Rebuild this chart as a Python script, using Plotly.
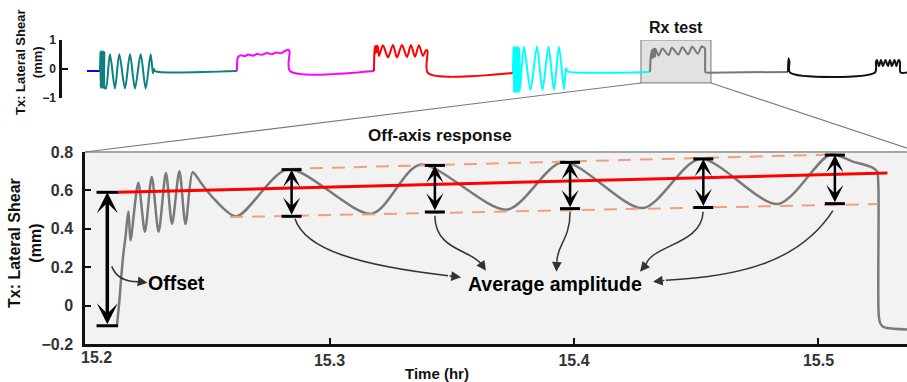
import plotly.graph_objects as go

# ---------------- Overview strip (time in hr, shear in mm) ----------------
blue_t = [12.032, 12.1055]
blue_v = [-0.07, -0.07]

teal_t = [12.1055, 12.1078, 12.110, 12.1123, 12.1145, 12.1168, 12.119, 12.1213, 12.1236, 12.1258,
          12.128, 12.1303, 12.1326, 12.1394, 12.162, 12.190, 12.2145, 12.2467, 12.275, 12.3032,
          12.3354, 12.3637, 12.3919, 12.4049, 12.4105, 12.4162, 12.8795]
teal_v = [-0.07, 0.6, -0.65, 0.6, -0.65, 0.6, -0.65, 0.6, -0.65, 0.6,
          -0.65, 0.58, -0.65, -0.67, 0.51, -0.67, 0.51, -0.67, 0.51, -0.67,
          0.51, -0.67, 0.51, -0.15, 0.0, -0.07, -0.07]

mag_t = [12.8795, 12.8851, 12.9021, 12.9247, 12.9416, 12.9699, 12.9925, 13.0207, 13.049, 13.0772,
         13.0998, 13.1281, 13.1507, 13.1676, 13.1761, 13.1789, 13.6535]
mag_v = [-0.07, 0.41, 0.47, 0.44, 0.50, 0.46, 0.52, 0.49, 0.55, 0.51,
         0.57, 0.54, 0.62, 0.66, 0.62, -0.07, -0.07]

red_t = [13.6535, 13.6563, 13.6591, 13.662, 13.6648, 13.6676, 13.6704, 13.6733, 13.6761, 13.6817,
         13.7043, 13.7326, 13.7608, 13.7834, 13.8117, 13.8399, 13.8625, 13.8851, 13.9077, 13.9303,
         13.9473, 13.9558, 13.9586, 14.4388]
red_v = [-0.07, 0.62, 0.78, 0.55, 0.80, 0.58, 0.80, 0.60, 0.78, 0.45,
         0.82, 0.40, 0.83, 0.40, 0.83, 0.41, 0.83, 0.42, 0.82, 0.45,
         0.65, 0.62, -0.14, -0.14]

cyan_t = [14.4388, 14.4416, 14.4444, 14.4473, 14.4501, 14.4529, 14.4557, 14.4586, 14.4614, 14.4642,
          14.467, 14.4699, 14.4727, 14.4755, 14.4783, 14.5009, 14.5377, 14.5744, 14.6055, 14.6394,
          14.6704, 14.6987, 14.7269, 14.7382, 14.7438, 14.7495, 15.2131]
cyan_v = [-0.12, 0.76, -0.8, 0.76, -0.8, 0.76, -0.8, 0.76, -0.8, 0.76,
          -0.8, 0.76, -0.8, 0.7, -0.72, 0.77, -0.72, 0.77, -0.72, 0.77,
          -0.72, 0.77, -0.70, 0.03, -0.04, -0.09, -0.10]

after_t = [15.5362, 15.9925]
after_v = [-0.125, -0.10]

black_t = [15.9925, 15.9953, 15.9981, 16.001, 16.0038, 16.484, 16.4897, 16.4953, 16.5066, 16.5179,
           16.5292, 16.5433, 16.5574, 16.5687, 16.58, 16.5942, 16.6055, 16.6168, 16.6252, 16.628, 16.665]
black_v = [-0.10, 0.37, 0.30, 0.25, -0.12, -0.12, 0.25, 0.31, 0.10, 0.31,
           0.10, 0.31, 0.10, 0.31, 0.10, 0.31, 0.10, 0.31, 0.25, -0.12, -0.12]

# ---------------- Rx test detail (off-axis response) ----------------
rx_t = [15.2131, 15.2141, 15.2147, 15.2157, 15.2166, 15.2172, 15.2178, 15.2186, 15.2218, 15.2245,
        15.2273, 15.2301, 15.2331, 15.2356, 15.2386, 15.2411, 15.2440, 15.2458, 15.2474, 15.2532,
        15.2620, 15.2830, 15.3173, 15.3370, 15.3726, 15.3955, 15.4282, 15.4515, 15.4834, 15.5047,
        15.5141, 15.5219, 15.5239, 15.5245, 15.5246, 15.5252, 15.5264, 15.5280, 15.5362]
rx_v = [-0.10, 0.03, 0.13, 0.27, 0.36, 0.44, 0.49, 0.34, 0.64, 0.385,
        0.67, 0.385, 0.69, 0.425, 0.70, 0.425, 0.695, 0.67, 0.64, 0.55,
        0.465, 0.71, 0.479, 0.734, 0.50, 0.748, 0.508, 0.764, 0.529, 0.786,
        0.75, 0.72, 0.70, 0.62, -0.04, -0.09, -0.11, -0.117, -0.125]

trend_t = [15.2135, 15.5282]
trend_v = [0.59, 0.69]
upper_env_t = [15.2830, 15.5055]
upper_env_v = [0.712, 0.787]
lower_env_t = [15.2593, 15.5243]
lower_env_v = [0.461, 0.529]

amp_t = [15.2845, 15.3431, 15.3984, 15.4529, 15.5067]
amp_top = [0.708, 0.730, 0.746, 0.764, 0.784]
amp_bot = [0.465, 0.4875, 0.505, 0.511, 0.531]
offset_t = 15.20912
offset_top = 0.59
offset_bot = -0.105

lower_ticks = [15.3, 15.4, 15.5]
y_ticks = [-0.2, 0, 0.2, 0.4, 0.6, 0.8]
y_ticktext = ["\u22120.2", "0", "0.2", "0.4", "0.6", "0.8"]

W, H = 907, 382
FONT = "Liberation Sans, Arial, sans-serif"

fig = go.Figure()

def line(t, v, color, xa="x", ya="y", width=2.0, shape="spline", dash=None):
    fig.add_trace(go.Scatter(x=t, y=v, mode="lines", xaxis=xa, yaxis=ya,
                             line=dict(color=color, width=width, shape=shape, dash=dash,
                                       smoothing=0.8 if shape == "spline" else None),
                             hoverinfo="skip", showlegend=False))

# overview strip
line(blue_t, blue_v, "#0000ff", shape="linear")
line(teal_t, teal_v, "#0e8080")
line(mag_t, mag_v, "#ff00ff")
line(red_t, red_v, "#ff0000")
line(cyan_t, cyan_v, "#00ffff")
line(rx_t, rx_v, "#777777")
line(after_t, after_v, "#777777", shape="linear")
line(black_t, black_v, "#111111")

# detail
line(rx_t, rx_v, "#7a7a7a", "x2", "y2", width=2.5)
line(upper_env_t, upper_env_v, "#f0a07c", "x2", "y2", width=2, shape="linear", dash="13px,9px")
line(lower_env_t, lower_env_v, "#f0a07c", "x2", "y2", width=2, shape="linear", dash="13px,9px")
line(trend_t, trend_v, "#ff0000", "x2", "y2", width=3, shape="linear")

# caps of the double arrows
CAP = 0.0041
cx, cy = [], []
for t, a, b in zip(amp_t, amp_top, amp_bot):
    cx += [t - CAP, t + CAP, None, t - CAP, t + CAP, None]
    cy += [a, a, None, b, b, None]
OCAP = 0.0044
cx += [offset_t - OCAP, offset_t + OCAP, None, offset_t - OCAP, offset_t + OCAP, None]
cy += [offset_top, offset_top, None, offset_bot, offset_bot, None]
fig.add_trace(go.Scatter(x=cx, y=cy, mode="lines", xaxis="x2", yaxis="y2",
                         line=dict(color="#000000", width=3), hoverinfo="skip", showlegend=False))

ann = []
for t, a, b in zip(amp_t, amp_top, amp_bot):
    ann.append(dict(x=t, y=a, ax=t, ay=b, xref="x2", yref="y2", axref="x2", ayref="y2", text="",
                    showarrow=True, arrowside="end+start", arrowhead=3, startarrowhead=3,
                    arrowsize=1.15, startarrowsize=1.15, arrowwidth=2.5, arrowcolor="#000000"))
ann.append(dict(x=offset_t, y=offset_top, ax=offset_t, ay=offset_bot, xref="x2", yref="y2",
                axref="x2", ayref="y2", text="", showarrow=True, arrowside="end+start",
                arrowhead=3, startarrowhead=3, arrowsize=1.0, startarrowsize=1.0,
                arrowwidth=3.5, arrowcolor="#000000"))

# curved pointers
curves = [
    ("M 15.21092,0.2042 Q 15.2135,0.1193 15.2225,0.1245", (15.2225, 0.1245), (15.22556, 0.1193)),
    ("M 15.2859,0.4526 C 15.2900,0.2911 15.3125,0.2078 15.3485,0.1557", (15.3485, 0.1557), (15.3538, 0.1479)),
    ("M 15.3431,0.4682 C 15.3431,0.2911 15.3575,0.2911 15.3620,0.2182", (15.3620, 0.2182), (15.3640, 0.1818)),
    ("M 15.3984,0.4891 C 15.3984,0.3432 15.3930,0.3172 15.3930,0.2286", (15.3930, 0.2286), (15.3928, 0.1766)),
    ("M 15.4528,0.4891 C 15.4524,0.3172 15.4319,0.3172 15.4294,0.2130", (15.4294, 0.2130), (15.4270, 0.1766)),
    ("M 15.5059,0.4943 C 15.4924,0.2286 15.4679,0.1505 15.4376,0.1323", (15.4376, 0.1323), (15.4323, 0.1245)),
]
shapes = []
for path, tail, tip in curves:
    shapes.append(dict(type="path", path=path, xref="x2", yref="y2",
                       line=dict(color="#333333", width=1.5)))
    ann.append(dict(x=tip[0], y=tip[1], ax=tail[0], ay=tail[1], xref="x2", yref="y2",
                    axref="x2", ayref="y2", text="", showarrow=True, arrowhead=2,
                    arrowsize=1.3, arrowwidth=1.5, arrowcolor="#333333"))

# backgrounds / frames
shapes.insert(0, dict(type="rect", xref="x2 domain", yref="y2 domain", x0=0, x1=1.02, y0=0, y1=1,
                      fillcolor="#f2f2f2", line=dict(width=0), layer="below"))
shapes.append(dict(type="line", xref="x2 domain", yref="y2 domain", x0=0, x1=1.02, y0=1, y1=1,
                   line=dict(color="#a6a6a6", width=2), layer="below"))
shapes.insert(0, dict(type="rect", xref="x", yref="y", x0=15.162, x1=15.5574, y0=-0.48, y1=1.0,
                      fillcolor="#e2e2e2", line=dict(color="#8c8c8c", width=1.2), layer="below"))
# zoom connectors
shapes.append(dict(type="line", xref="paper", yref="paper", x0=641 / W, y0=1 - 83 / H,
                   x1=85 / W, y1=1 - 152 / H, line=dict(color="#7a7a7a", width=1.2)))
shapes.append(dict(type="line", xref="paper", yref="paper", x0=711 / W, y0=1 - 83 / H,
                   x1=919 / W, y1=1 - 152 / H, line=dict(color="#7a7a7a", width=1.2)))

def text(s, x, y, size, xref="paper", yref="paper", angle=0, color="#111111"):
    ann.append(dict(text=s, x=x, y=y, xref=xref, yref=yref, showarrow=False, textangle=angle,
                    xanchor="center", yanchor="middle",
                    font=dict(family=FONT, size=size, color=color, weight="bold")))

text("Off-axis response", 440 / W, 1 - 136 / H, 17)
text("Rx test", 675.5 / W, 1 - 28 / H, 16)
text("Time (hr)", 437 / W, 1 - 373 / H, 15)
text("15.2", 96.5 / W, 1 - 357 / H, 16, color="#333333")
text("Tx: Lateral Shear<br>(mm)", 25 / W, 1 - 243 / H, 16, angle=-90)
text("Tx: Lateral Shear<br>(mm)", 29 / W, 1 - 62 / H, 13, angle=-90)
text("Offset", 15.2374, 0.119, 19.5, "x2", "y2", color="#000000")
text("Average amplitude", 15.3922, 0.114, 19.5, "x2", "y2", color="#000000")

axis_common = dict(showgrid=False, zeroline=False, showline=True, linecolor="#111111",
                   linewidth=2.5, ticks="inside", ticklen=6, tickwidth=2, tickcolor="#111111",
                   automargin=False)

fig.update_layout(
    template="none",
    width=W, height=H, margin=dict(l=0, r=0, t=0, b=0, pad=0, autoexpand=False),
    paper_bgcolor="white", plot_bgcolor="rgba(0,0,0,0)", showlegend=False,
    font=dict(family=FONT),
    xaxis=dict(domain=[62 / W, 1], range=[11.891, 16.665], visible=False, anchor="y",
               automargin=False),
    yaxis=dict(domain=[1 - 98 / H, 1 - 40 / H], range=[-1, 1], tickvals=[-1, 0, 1],
               ticktext=["\u22121", "0", "1"], anchor="x", ticklabelstandoff=1,
               tickfont=dict(family=FONT, size=12, color="#222222", weight="bold"), **axis_common),
    xaxis2=dict(domain=[85 / W, 1], range=[15.2, 15.5362], tickvals=lower_ticks,
                ticktext=[f"{v:.1f}" for v in lower_ticks], anchor="y2", ticklabelstandoff=0,
                tickfont=dict(family=FONT, size=16, color="#333333", weight="bold"), **axis_common),
    yaxis2=dict(domain=[1 - 344 / H, 1 - 152 / H], range=[-0.2, 0.8], tickvals=y_ticks,
                ticktext=y_ticktext, anchor="x2", ticklabelstandoff=6,
                tickfont=dict(family=FONT, size=16, color="#333333", weight="bold"), **axis_common),
    shapes=shapes, annotations=ann,
)

fig.write_html("out.html")
